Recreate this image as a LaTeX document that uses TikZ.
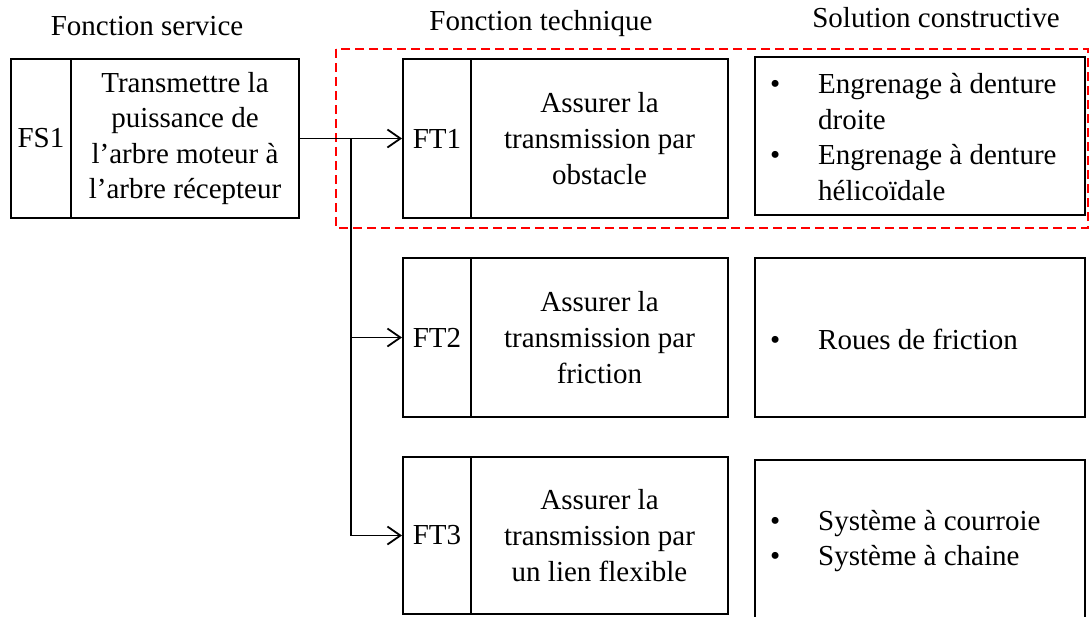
\documentclass[tikz,border=0pt]{standalone}
\usepackage{fontspec}
\setmainfont{Liberation Serif}
\usetikzlibrary{arrows.meta,calc}
\begin{document}
\begin{tikzpicture}[x=1pt,y=-1pt,
  cell/.style={draw, line width=2pt, inner sep=0pt, align=center,
    font=\fontsize{29}{35.6}\selectfont},
  head/.style={inner sep=0pt, anchor=base, font=\fontsize{29}{35.6}\selectfont},
  list/.style={inner sep=0pt, anchor=west, align=left, font=\fontsize{29}{35.6}\selectfont},
  arr/.style={line width=1.8pt, -{Straight Barb[length=13pt,width=18pt,line width=1.8pt]}},
  frame/.style={draw=red, line width=1.8pt, dash pattern=on 9pt off 5pt}
]
\clip (0,0) rectangle (1091,616);
\fill[white] (0,0) rectangle (1091,616);

% headers
\node[head] (h1) at (147,35) {Fonction service};
\node[head] (h2) at (541,30) {Fonction technique};
\node[head] (h3) at (936,27) {Solution constructive};

% FS1
\node[cell, minimum width=60pt, minimum height=159pt] (fs1l) at (41,138.5) {FS1};
\node[cell, minimum width=228pt, minimum height=159pt] (fs1t) at (185,138.5)
  {Transmettre la\\puissance de\\l’arbre moteur à\\l’arbre récepteur};

% FT rows
\node[cell, minimum width=68pt, minimum height=159pt] (ft1l) at (437,138.5) {FT1};
\node[cell, minimum width=257pt, minimum height=159pt] (ft1t) at (599.5,138.5)
  {Assurer la\\transmission par\\obstacle};
\node[cell, minimum width=68pt, minimum height=159pt] (ft2l) at (437,337.5) {FT2};
\node[cell, minimum width=257pt, minimum height=159pt] (ft2t) at (599.5,337.5)
  {Assurer la\\transmission par\\friction};
\node[cell, minimum width=68pt, minimum height=157pt] (ft3l) at (437,535.5) {FT3};
\node[cell, minimum width=257pt, minimum height=157pt] (ft3t) at (599.5,535.5)
  {Assurer la\\transmission par\\un lien flexible};

% solution boxes
\node[cell, minimum width=330pt, minimum height=158pt] (sc1) at (920,136) {};
\node[cell, minimum width=330pt, minimum height=159pt] (sc2) at (920,337.5) {};
\node[cell, minimum width=330pt, minimum height=160pt] (sc3) at (920,540) {};

\node[list] (sc1txt) at (770,137)
  {\makebox[48pt][l]{\textbullet}Engrenage à denture\\
   \hspace*{48pt}droite\\
   \makebox[48pt][l]{\textbullet}Engrenage à denture\\
   \hspace*{48pt}hélicoïdale};
\node[list] (sc2txt) at (770,339)
  {\makebox[48pt][l]{\textbullet}Roues de friction};
\node[list] (sc3txt) at (770,541)
  {\makebox[48pt][l]{\textbullet}Système à courroie\\
   \makebox[48pt][l]{\textbullet}Système à chaine};

% red dashed frame
\draw[frame] (336,49) rectangle (1088,228);

% connectors
\coordinate (j) at ($(fs1t.east)!0.5!(ft1l.west)$);
\draw[arr] (fs1t.east) -- (ft1l.west);
\draw[arr] (j) |- (ft3l.west);
\draw[arr] (j |- ft2l.west) -- (ft2l.west);
\end{tikzpicture}
\end{document}
